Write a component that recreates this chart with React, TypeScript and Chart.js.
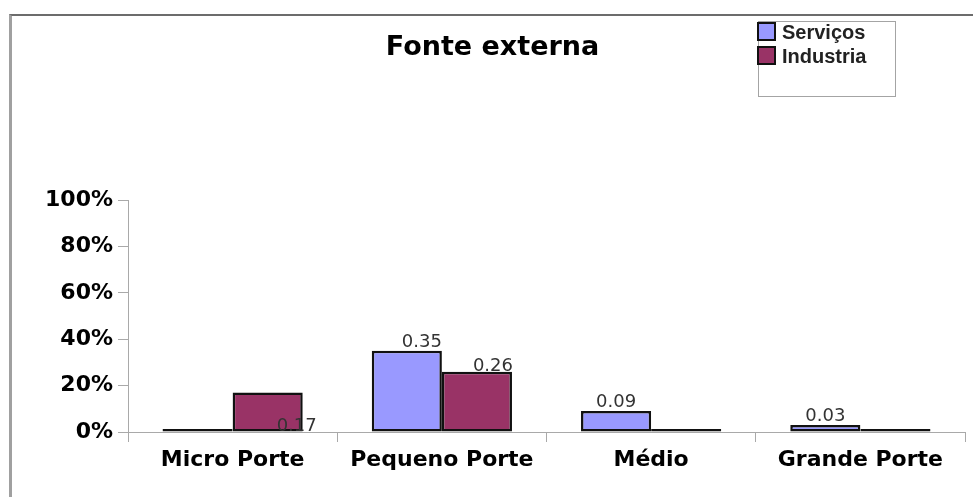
import React, { useEffect, useRef } from "react";
import { Chart, registerables } from "chart.js";

Chart.register(...registerables);

// Source data
const categories = ["Micro Porte", "Pequeno Porte", "Médio", "Grande Porte"];
const servicos = [0, 0.35, 0.09, 0.03];
const industria = [0.17, 0.26, 0, 0];
const seriesNames = ["Serviços", "Industria"];
const seriesColors = ["#9999FF", "#993366"];
const chartTitle = "Fonte externa";

const axisFont = { family: "'DejaVu Sans', sans-serif", size: 22, weight: "bold" as const };
const gridColor = "#a9a9a9";

// Writes each non-zero value next to its bar; placement tweaks come from plugin options.
const valueLabels = {
  id: "valueLabels",
  afterDatasetsDraw(chart: any, _args: any, opts: any) {
    const ctx = chart.ctx;
    ctx.save();
    ctx.font = "18px 'DejaVu Sans', sans-serif";
    ctx.fillStyle = "#333333";
    ctx.textAlign = "center";
    ctx.textBaseline = "alphabetic";
    chart.data.datasets.forEach((ds: any, di: number) => {
      const meta = chart.getDatasetMeta(di);
      meta.data.forEach((bar: any, i: number) => {
        const v = ds.data[i];
        if (!v) return;
        const place = (opts.placement && opts.placement[di] && opts.placement[di][i]) || {};
        const x = bar.x + (place.dx || 0);
        const y = place.anchor === "base" ? bar.base - 1 : bar.y - (place.lift ?? 4);
        ctx.fillText(v.toFixed(2), x, y);
      });
    });
    ctx.restore();
  },
};

export default function App() {
  const canvasRef = useRef<HTMLCanvasElement | null>(null);

  useEffect(() => {
    if (!canvasRef.current) return;
    const chart = new Chart(canvasRef.current, {
      type: "bar",
      data: {
        labels: categories,
        datasets: [
          {
            label: seriesNames[0],
            data: servicos,
            backgroundColor: seriesColors[0],
            borderColor: "#111111",
            borderWidth: 2.5,
            borderSkipped: false,
            minBarLength: 3,
          },
          {
            label: seriesNames[1],
            data: industria,
            backgroundColor: seriesColors[1],
            borderColor: "#111111",
            borderWidth: 2.5,
            borderSkipped: false,
            minBarLength: 3,
          },
        ],
      },
      plugins: [valueLabels],
      options: {
        responsive: false,
        animation: false,
        layout: { padding: { left: 20, right: 8, top: 0, bottom: 0 } },
        datasets: { bar: { categoryPercentage: 0.67, barPercentage: 1.0 } },
        plugins: {
          legend: { display: false },
          tooltip: { enabled: false },
          title: {
            display: true,
            text: chartTitle,
            color: "#000000",
            font: { family: "'DejaVu Sans', sans-serif", size: 27, weight: "bold" },
            padding: { top: 32, bottom: 135.6 },
          },
          valueLabels: {
            placement: [
              [null, { dx: 15 }, {}, {}],
              [{ dx: 29, anchor: "base" }, { dx: 16, lift: 1 }, {}, {}],
            ],
          },
        } as any,
        scales: {
          x: {
            afterFit: (scale: any) => {
              scale.height = 65;
            },
            grid: {
              display: true,
              drawOnChartArea: false,
              drawTicks: true,
              tickLength: 10,
              color: gridColor,
            },
            border: { display: true, color: gridColor, width: 1 },
            ticks: { color: "#000000", font: axisFont, padding: 5, maxRotation: 0 },
          },
          y: {
            min: 0,
            max: 1,
            afterFit: (scale: any) => {
              scale.width = 108;
            },
            grid: {
              display: true,
              drawOnChartArea: false,
              drawTicks: true,
              tickLength: 10,
              color: gridColor,
            },
            border: { display: true, color: gridColor, width: 1 },
            ticks: {
              stepSize: 0.2,
              color: "#000000",
              font: axisFont,
              padding: 5,
              callback: (v: any) => Math.round(Number(v) * 100) + "%",
            },
          },
        },
      },
    });
    return () => chart.destroy();
  }, []);

  return (
    <div
      style={{
        position: "absolute",
        left: 0,
        top: 0,
        width: 973,
        height: 497,
        background: "#ffffff",
        overflow: "hidden",
      }}
    >
      {/* outer frame: only its top and left edges are visible */}
      <div
        style={{
          position: "absolute",
          left: 9,
          top: 14,
          width: 1000,
          height: 600,
          borderTop: "2px solid #6c6c6c",
          borderLeft: "3px solid #a0a0a0",
        }}
      />
      <canvas ref={canvasRef} width={973} height={497} style={{ position: "absolute", left: 0, top: 0 }} />
      {/* legend */}
      <div
        style={{
          position: "absolute",
          left: 758,
          top: 21,
          width: 136,
          height: 74,
          border: "1px solid #a4a4a4",
          background: "#ffffff",
        }}
      />
      {seriesNames.map((name, i) => (
        <div
          key={name}
          style={{
            position: "absolute",
            left: 757,
            top: 22 + i * 24,
            height: 20,
            display: "flex",
            alignItems: "flex-start",
            fontFamily: "'Liberation Sans', Arial, sans-serif",
            fontWeight: "bold",
            fontSize: 20,
            lineHeight: "20px",
            color: "#222222",
            whiteSpace: "nowrap",
          }}
        >
          <span
            style={{
              display: "inline-block",
              width: 15,
              height: 15,
              border: "2px solid #111111",
              background: seriesColors[i],
              marginRight: 6,
            }}
          />
          <span>{name}</span>
        </div>
      ))}
    </div>
  );
}
